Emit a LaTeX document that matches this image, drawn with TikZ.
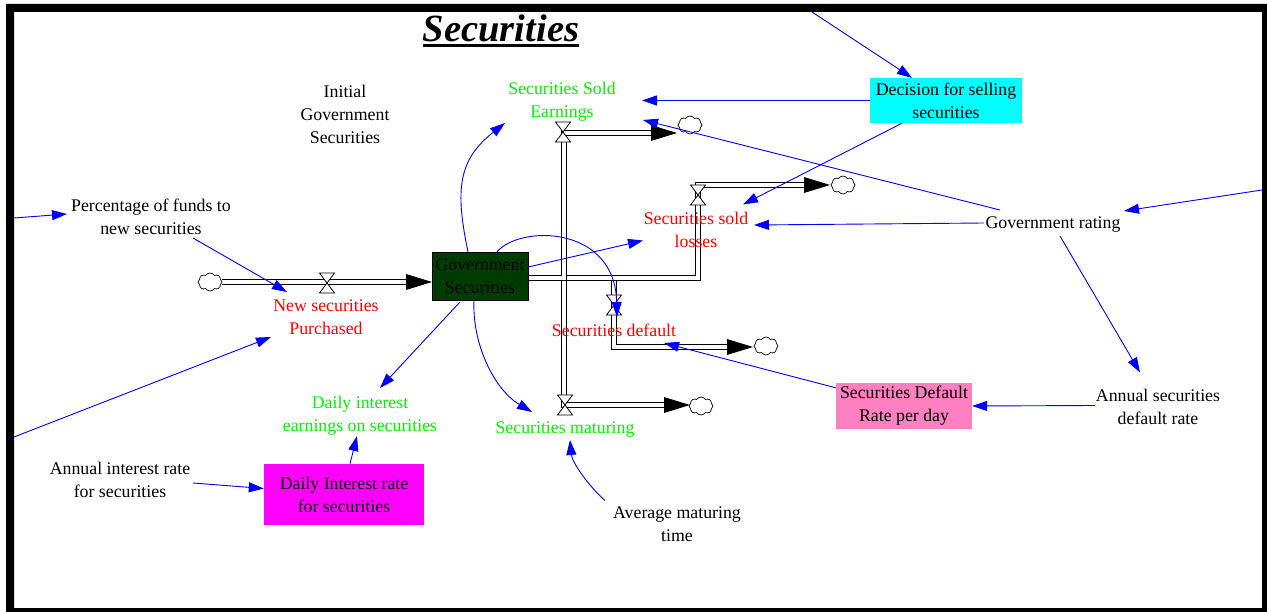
\documentclass[tikz,border=0pt]{standalone}
\usepackage{fontspec}
\setmainfont{Liberation Serif}
\usetikzlibrary{arrows.meta,calc,shapes.symbols}
\pgfdeclarelayer{back}
\pgfdeclarelayer{bg}
\pgfsetlayers{back,bg,main}
\definecolor{lgreen}{RGB}{0,245,0}
\definecolor{stockg}{RGB}{0,60,0}
\definecolor{pinkb}{RGB}{255,128,192}
\definecolor{cyanb}{RGB}{0,255,255}
\definecolor{magb}{RGB}{255,0,255}
\definecolor{linkb}{RGB}{0,0,255}
\begin{document}
\begin{tikzpicture}[x=1pt,y=-1pt,
  lab/.style={align=center, inner sep=1pt, font=\fontsize{17.8}{23}\selectfont},
  pipe/.style={draw=black, line width=1.1pt, double=white, double distance=3.4pt, line join=miter},
  cloudn/.style={cloud, cloud puffs=8, cloud puff arc=120, aspect=1.3, draw=black, fill=white, line width=0.7pt, minimum width=24pt, minimum height=18pt, inner sep=0pt},
  link/.style={draw=linkb, line width=0.9pt, -{Triangle[length=15pt,width=10pt]}},
  valve/.pic={\draw[fill=white, line width=0.8pt] (-7.5,-10) -- (7.5,-10) -- (-7.5,10) -- (7.5,10) -- cycle;}
]
\useasboundingbox (0,0) rectangle (1267,612);
\begin{pgfonlayer}{back}
\fill[white] (0,0) rectangle (1267,612);
\end{pgfonlayer}
\fill[black, even odd rule] (6,4) rectangle (1267,612) (14,12) rectangle (1262,608);

% title
\node[anchor=base, inner sep=0pt] (title) at (501,42) {\fontsize{38.5}{40}\selectfont\bfseries\itshape Securities};
\draw[line width=3pt] ($(title.base west)+(0,4)$) -- ($(title.base east)+(0,4)$);

% stock
\node[lab, draw=black, fill=stockg, minimum width=96pt, minimum height=48pt, inner sep=0pt] (stock) at (480,276) {Government\\Securities};

% variables
\node[lab] (init) at (345,114.5) {Initial\\Government\\Securities};
\node[lab, text=lgreen] (sse) at (562,101.5) {Securities Sold\\Earnings};
\node[lab, fill=cyanb, minimum width=152pt, minimum height=45pt] (dec) at (946,100.5) {Decision for selling\\securities};
\node[lab] (perc) at (151,216.5) {Percentage of funds to\\new securities};
\node[lab, text=red] (ssl) at (696,229.5) {Securities sold\\losses};
\node[lab] (gr) at (1053,225) {Government rating};
\node[lab, text=red] (nsp) at (326,317) {New securities\\Purchased};
\node[lab, text=red] (sd) at (614,330) {Securities default};
\node[lab, text=lgreen] (die) at (360,415.5) {Daily interest\\earnings on securities};
\node[lab, text=lgreen] (sm) at (565,430) {Securities maturing};
\node[lab, fill=pinkb, minimum width=136pt, minimum height=46pt] (sdr) at (904,406) {Securities Default\\Rate per day};
\node[lab] (asdr) at (1158,407) {Annual securities\\default rate};
\node[lab] (air) at (120,480) {Annual interest rate\\for securities};
\node[lab, fill=magb, minimum width=160pt, minimum height=61pt] (dir) at (344,494.5) {Daily Interest rate\\for securities};
\node[lab] (amt) at (677,524) {Average maturing\\time};

% clouds
\node[cloudn] (c0) at (210,282) {};
\node[cloudn] (c1) at (690,125) {};
\node[cloudn] (c2) at (843,185) {};
\node[cloudn] (c3) at (766,346) {};
\node[cloudn] (c4) at (701,406) {};

% frame-edge ends
\coordinate (topin) at (812,12);
\coordinate (rightin) at (1262,190);
\coordinate (leftinA) at (14,218);
\coordinate (leftinB) at (14,437);

% pipe geometry
\coordinate (so) at ($(stock.east)+(0,2)$);
\coordinate (b1) at (564,133);
\coordinate (b2) at (698,185);
\coordinate (b3) at (614,347);
\coordinate (b4) at (564,405);
\coordinate (t0) at (432,282);
\coordinate (t1) at (677,133);
\coordinate (t2) at (830,185);
\coordinate (t3) at (753,347);
\coordinate (t4) at (690,405);

\begin{pgfonlayer}{bg}
\draw[pipe] (c0.east) -- ($(t0)+(-24,0)$);
\draw[pipe] (so) -| (b4) -- ($(t4)+(-24,0)$);
\draw[pipe] (so) -| (b3) -- ($(t3)+(-24,0)$);
\draw[pipe] (so) -| (b2) -- ($(t2)+(-24,0)$);
\draw[pipe] (so) -| (b1) -- ($(t1)+(-24,0)$);
\foreach \t in {t0,t1,t2,t3,t4}{\fill (\t) -- ++(-26,-8) -- ++(0,16) -- cycle;}
\pic at (327,283) {valve};
\pic at (563,132) {valve};
\pic at (698,195) {valve};
\pic at (614,305) {valve};
\pic at (565,405) {valve};
\end{pgfonlayer}

% information links
\draw[link] (topin) -- ($(dec.north)+(-34,0)$);
\draw[link] (dec.west) -- ($(sse)+(80,-1)$);
\draw[link] ($(dec.south)+(-44,0)$) -- ($(ssl)+(47,-25)$);
\draw[link] ($(gr)+(-53,-15)$) -- ($(sse)+(81,18.5)$);
\draw[link] ($(gr)+(-69,-2)$) -- ($(ssl)+(58,-4.5)$);
\draw[link] (rightin) -- ($(gr)+(71,-14)$);
\draw[link] ($(gr)+(7,11)$) -- ($(asdr)+(-18,-34.5)$);
\draw[link] ($(asdr)+(-63,-1.5)$) -- (sdr.east);
\draw[link] ($(sdr.north west)+(0,5)$) -- ($(sd)+(50,13)$);
\draw[link] ($(stock.north)+(-12,0)$) .. controls +(-13,-62) and +(-47,37) .. ($(sse)+(-57,21.5)$);
\draw[link] ($(stock.north)+(17,0)$) .. controls +(23,-27) and +(-2,-92) .. ($(sd)+(3,-13)$);
\draw[link] ($(stock.south)+(-6,0)$) .. controls +(-2,45) and +(-37,-22) .. ($(sm)+(-33,-18)$);
\draw[link] ($(stock.east)+(0,-9)$) -- ($(ssl)+(-53,11)$);
\draw[link] ($(stock.south west)+(28,2)$) -- ($(die)+(20,-27.5)$);
\draw[link] ($(dir.north)+(6,0)$) -- ($(die)+(-3,20.5)$);
\draw[link] ($(air)+(73,3)$) -- ($(dir.west)+(0,-6)$);
\draw[link] ($(perc)+(42,21.5)$) -- ($(nsp)+(-39,-25)$);
\draw[link] (leftinA) -- ($(perc)+(-84,-2.5)$);
\draw[link] (leftinB) -- ($(nsp)+(-55,20)$);
\draw[link] ($(amt)+(-72,-23.5)$) .. controls +(-17,-15) and +(2,22) .. ($(sm)+(5,10)$);
\end{tikzpicture}
\end{document}
